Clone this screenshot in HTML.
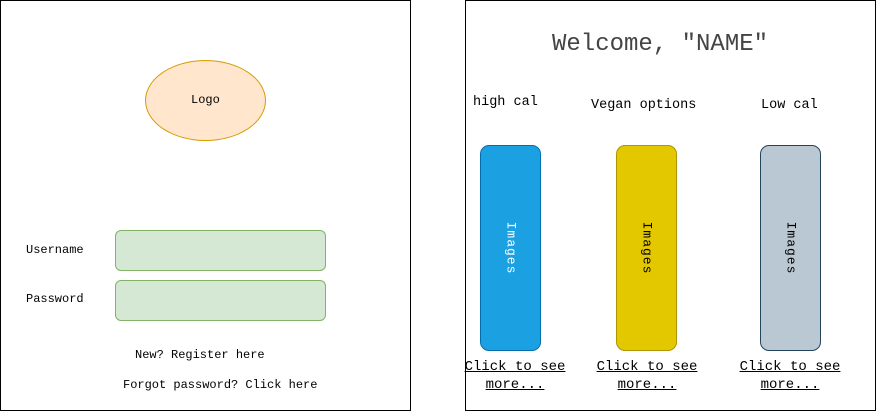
<!DOCTYPE html>
<html><head><meta charset="utf-8"><style>
body{margin:0;width:876px;height:411px;background:#fff;position:relative;overflow:hidden;font-family:"Liberation Mono",monospace;color:#000}
div,span{position:absolute;box-sizing:border-box}
.t{white-space:nowrap}
.card{width:61px;height:206px;top:145px;border-radius:9px;border:1px solid}
.card span{left:50%;top:50%;transform:translate(-50%,-50%) rotate(90deg);font-size:13px;letter-spacing:1px;white-space:nowrap}
.link{font-size:14px;text-decoration:underline;text-align:center;line-height:18px;width:120px;top:358px}
</style></head><body>
<div style="left:0;top:0;width:411px;height:411px;border:1px solid #000"></div>
<div style="left:145px;top:60px;width:121px;height:81px;border-radius:50%;background:#ffe6cc;border:1px solid #d79b00"></div>
<span class="t" style="left:191px;top:93px;font-size:12px">Logo</span>
<span class="t" style="left:26px;top:243px;font-size:12px">Username</span>
<div style="left:115px;top:230px;width:211px;height:41px;border-radius:6px;background:#d5e8d4;border:1px solid #82b366"></div>
<span class="t" style="left:26px;top:292px;font-size:12px">Password</span>
<div style="left:115px;top:280px;width:211px;height:41px;border-radius:6px;background:#d5e8d4;border:1px solid #82b366"></div>
<span class="t" style="left:135px;top:348px;font-size:12px">New? Register here</span>
<span class="t" style="left:123px;top:378px;font-size:12px">Forgot password? Click here</span>

<div style="left:465px;top:0;width:411px;height:411px;border:1px solid #000"></div>
<span class="t" style="left:552px;top:31px;font-size:24px;color:#444">Welcome, "NAME"</span>
<span class="t" style="left:473px;top:95px;font-size:13.5px">high cal</span>
<span class="t" style="left:591px;top:98px;font-size:13.5px">Vegan options</span>
<span class="t" style="left:761px;top:98px;font-size:13.5px">Low cal</span>
<div class="card" style="left:480px;background:#1ba1e2;border-color:#006eaf;color:#fff"><span>Images</span></div>
<div class="card" style="left:616px;background:#e3c800;border-color:#b09500"><span>Images</span></div>
<div class="card" style="left:760px;background:#bac8d3;border-color:#23445d"><span>Images</span></div>
<div class="link" style="left:455px">Click to see more...</div>
<div class="link" style="left:587px">Click to see more...</div>
<div class="link" style="left:730px">Click to see more...</div>
</body></html>
